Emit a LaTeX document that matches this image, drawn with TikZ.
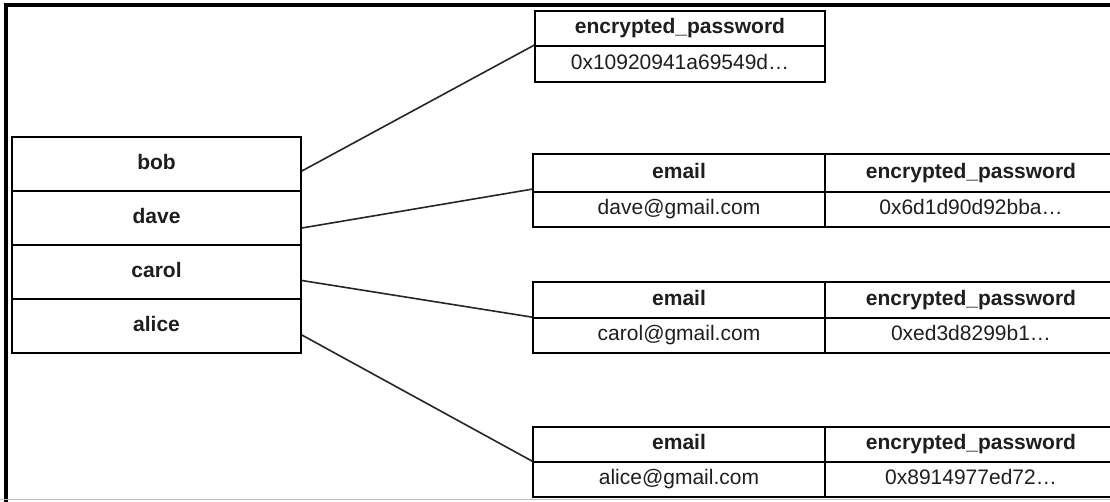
\documentclass[tikz,border=0pt]{standalone}
\usepackage{fontspec}
\setmainfont{Liberation Sans}
\definecolor{ink}{HTML}{1E1E1E}
\begin{document}
\begin{tikzpicture}[x=1pt,y=-1pt,
  cellbase/.style={draw=black, line width=1.7pt, inner sep=0pt, text=ink,
    text height=15pt, text depth=4.5pt, font=\fontsize{21}{25}\selectfont},
  lcell/.style={cellbase, minimum width=289pt, minimum height=54pt, font=\fontsize{21}{25}\selectfont\bfseries},
  hcell/.style={cellbase, minimum width=292pt, font=\fontsize{21}{25}\selectfont\bfseries},
  vcell/.style={cellbase, minimum width=292pt},
  link/.style={draw=black!85, line width=1.6pt},
  frame/.style={draw=black, line width=3.2pt}]
\useasboundingbox (0,0) rectangle (1110,501);
\begin{scope}
\clip (0,0) rectangle (1110,501);
\fill[white] (0,0) rectangle (1110,501);
% frame
\draw[frame] (6,503) -- (6,5) -- (1112,5);
\draw[black!25, line width=1.5pt] (0,499.5) -- (1110,499.5);
% left table
\node[lcell] (bob)   at (156.5,164) {bob};
\node[lcell] (dave)  at (156.5,218) {dave};
\node[lcell] (carol) at (156.5,272) {carol};
\node[lcell] (alice) at (156.5,326) {alice};
% top table
\node[hcell, minimum width=290pt, minimum height=35pt] (p1h) at (680,28.5) {encrypted\_password};
\node[vcell, minimum width=290pt, minimum height=36pt] (p1v) at (680,64) {0x10920941a69549d…};
% table 2
\node[hcell, minimum height=38pt] (d2e) at (679,173) {email};
\node[hcell, minimum height=38pt] (d2p) at (971,173) {encrypted\_password};
\node[vcell, minimum height=35pt] (d2ev) at (679,209.5) {dave@gmail.com};
\node[vcell, minimum height=35pt] (d2pv) at (971,209.5) {0x6d1d90d92bba…};
% table 3
\node[hcell, minimum height=36pt] (c3e) at (679,300) {email};
\node[hcell, minimum height=36pt] (c3p) at (971,300) {encrypted\_password};
\node[vcell, minimum height=35pt] (c3ev) at (679,335.5) {carol@gmail.com};
\node[vcell, minimum height=35pt] (c3pv) at (971,335.5) {0xed3d8299b1…};
% table 4
\node[hcell, minimum height=35pt] (a4e) at (679,444.5) {email};
\node[hcell, minimum height=35pt] (a4p) at (971,444.5) {encrypted\_password};
\node[vcell, minimum height=35pt] (a4ev) at (679,479.5) {alice@gmail.com};
\node[vcell, minimum height=35pt] (a4pv) at (971,479.5) {0x8914977ed72…};
% connectors
\draw[link] ([yshift=-7pt]bob.east) -- (p1v.north west);
\draw[link] ([yshift=-10pt]dave.east) -- ([yshift=2pt]d2ev.north west);
\draw[link] ([yshift=-8.5pt]carol.east) -- (c3ev.north west);
\draw[link] ([yshift=-9pt]alice.east) -- (a4ev.north west);
\end{scope}
\end{tikzpicture}
\end{document}
